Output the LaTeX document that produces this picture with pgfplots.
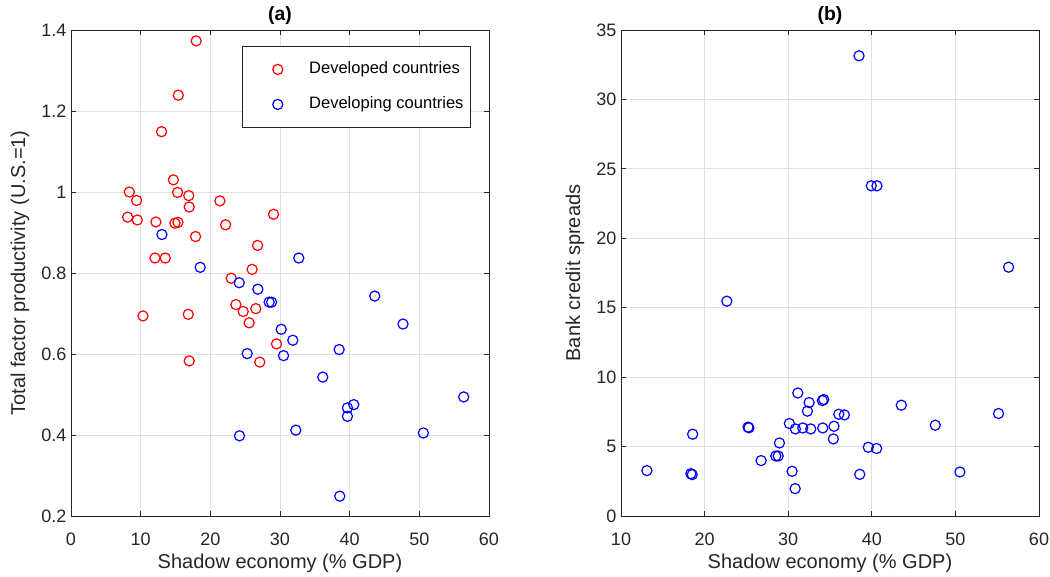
\documentclass[border=0pt]{standalone}
\usepackage{pgfplots}
\pgfplotsset{compat=1.18}
\usepackage{fontspec}
\setmainfont{Liberation Sans}

\definecolor{axgray}{RGB}{38,38,38}
\definecolor{gridgray}{RGB}{223,223,223}

\pgfplotsset{
  panel/.style={
    scale only axis, width=313.5pt, height=364.5pt,
    axis line style={axgray, line width=0.6pt},
    tick style={axgray, line width=0.6pt},
    major tick length=3.5pt,
    tick align=inside,
    grid=major,
    major grid style={gridgray, line width=0.6pt},
    ticklabel style={font=\fontsize{13.5}{16}\selectfont, text=axgray},
    xticklabel style={yshift=-9pt},
    label style={font=\fontsize{15}{18}\selectfont, text=axgray},
    every axis title shift=0pt,
    title style={font=\fontsize{14.5}{17}\selectfont\bfseries,
                 at={(axis description cs:0.5,1.029)}, anchor=center},
    /pgf/number format/assume math mode=true,
    xlabel style={at={(axis description cs:0.5,-0.097)}, anchor=center},
  },
  circ/.style={only marks, mark=o, mark size=3.8pt, line width=0.9pt,
               mark options={solid}},
}

% Shadow economy (% GDP) vs. total factor productivity
\pgfplotstableread{
x y
17.97 1.373
15.40 1.239
13.00 1.149
14.70 1.030
8.37 1.000
9.42 0.979
15.30 0.999
16.90 0.991
16.97 0.963
21.37 0.978
29.07 0.945
8.13 0.938
9.52 0.931
12.19 0.926
14.92 0.923
15.35 0.925
22.19 0.919
17.88 0.890
26.78 0.868
12.05 0.837
13.53 0.837
26.00 0.809
23.00 0.787
23.67 0.722
24.72 0.705
26.53 0.712
10.33 0.694
16.83 0.698
25.57 0.677
16.97 0.583
27.10 0.580
29.50 0.625
}\developed

\pgfplotstableread{
x y
13.05 0.895
18.55 0.814
24.15 0.776
26.82 0.760
28.44 0.728
28.79 0.728
32.70 0.837
25.29 0.601
43.60 0.743
47.66 0.674
30.17 0.661
31.84 0.634
30.51 0.596
38.49 0.611
36.14 0.543
56.37 0.494
39.68 0.467
40.59 0.475
39.68 0.446
24.19 0.398
32.27 0.412
50.58 0.405
38.58 0.249
}\developing

% Shadow economy (% GDP) vs. bank credit spreads, developing countries
\pgfplotstableread{
x y
13.10 3.27
18.57 5.89
18.36 3.05
18.52 2.98
22.66 15.47
25.20 6.40
25.30 6.35
26.76 3.99
28.52 4.32
28.80 4.32
28.95 5.26
30.14 6.66
30.47 3.22
30.83 1.97
30.86 6.27
31.15 8.86
31.74 6.34
32.30 7.55
32.50 8.17
32.70 6.27
34.09 8.31
34.25 8.39
34.13 6.34
35.40 5.55
35.48 6.46
36.05 7.33
36.72 7.28
38.47 33.14
38.56 3.00
39.58 4.95
39.94 23.78
40.58 4.86
40.62 23.78
43.53 7.98
47.59 6.54
50.54 3.17
55.16 7.38
56.36 17.92
}\spreads

\begin{document}
\begin{tikzpicture}
\path[use as bounding box] (-53.25pt,-45pt) rectangle (734.25pt,387pt);

\begin{axis}[panel,
  at={(0pt,0pt)}, anchor=south west,
  title={(a)},
  xmin=0, xmax=60, ymin=0.2, ymax=1.4,
  xtick={0,10,20,30,40,50,60},
  ytick={0.2,0.4,0.6,0.8,1,1.2,1.4},
  xlabel={Shadow economy (\% GDP)},
  ylabel={Total factor productivity (U.S.=1)},
  ylabel style={at={(axis description cs:-0.122,0.5)}, anchor=center},
  legend style={at={(axis description cs:0.956,0.967)}, anchor=north east,
    draw=axgray, line width=0.6pt, fill=white,
    font=\fontsize{12.4}{14}\selectfont,
    inner xsep=5pt, inner ysep=11.25pt, row sep=14.25pt,
    nodes={inner xsep=0pt, inner ysep=0pt, text height=9pt, text depth=3pt},
    cells={anchor=west}},
  legend image code/.code={
    \path[draw=none, fill=none] (-21.5pt,0pt) (23.5pt,0pt);
    \draw[#1] plot coordinates {(0pt,0pt)};},
]
\addplot[circ, red] table[x=x, y=y] {\developed};
\addlegendentry{Developed countries}
\addplot[circ, blue] table[x=x, y=y] {\developing};
\addlegendentry{Developing countries}
\end{axis}

\begin{axis}[panel,
  at={(412.5pt,0pt)}, anchor=south west,
  title={(b)},
  xmin=10, xmax=60, ymin=0, ymax=35,
  xtick={10,20,30,40,50,60},
  ytick={0,5,10,15,20,25,30,35},
  xlabel={Shadow economy (\% GDP)},
  ylabel={Bank credit spreads},
  ylabel style={at={(axis description cs:-0.110,0.5)}, anchor=center},
]
\addplot[circ, blue] table[x=x, y=y] {\spreads};
\end{axis}
\end{tikzpicture}
\end{document}
